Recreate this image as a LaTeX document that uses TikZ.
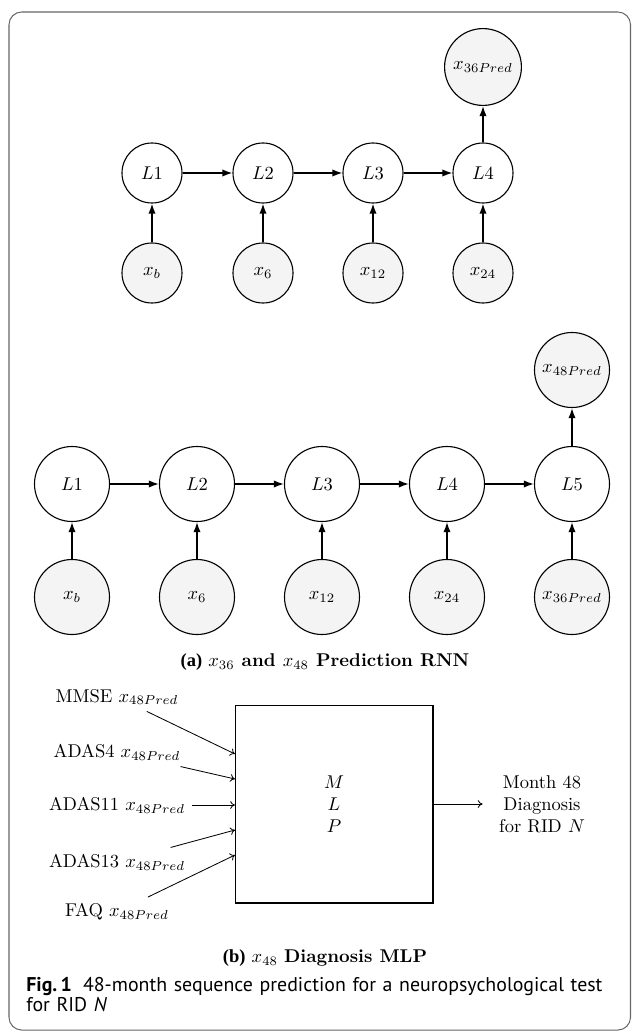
\documentclass[tikz,border=0pt]{standalone}
\usepackage{amsmath}
\usepackage{fontspec}
\usepackage{tikz}
\usetikzlibrary{arrows.meta,positioning,calc}
\newfontfamily\capsans{PT Sans}
\newfontfamily\captimes{Liberation Serif}
\definecolor{InGray}{HTML}{F4F4F4}
\definecolor{FrameGray}{HTML}{666666}

\begin{document}
\begin{tikzpicture}[x=0.19mm,y=-0.19mm,>=Latex,
    cell/.style={circle,draw,line width=.6pt,inner sep=1pt,fill=white},
    feed/.style={cell,fill=InGray},
    link/.style={-{Latex[length=5.5pt,width=4pt]},thick},
    wire/.style={-{To[length=2.6pt,width=4.2pt]},line width=.45pt}]
  \useasboundingbox (0,0) rectangle (632,1031);
  \draw[FrameGray,line width=.55pt,rounded corners=2.4mm] (9,12) rectangle (630.5,1030);

  % (a) upper chain: x36 prediction
  \begin{scope}[every node/.append style={minimum size=11.4mm}]
    \foreach \i/\px/\lab in {1/152/b,2/263/6,3/373/12,4/483/24} {
      \node[cell] (a\i) at (\px,173) {$L\i$};
      \node[feed] (ax\i) at (\px,273) {$x_{\lab}$};
      \draw[link] (ax\i) -- (a\i);
    }
  \end{scope}
  \foreach \i [evaluate=\i as \j using int(\i+1)] in {1,2,3}
    \draw[link] (a\i) -- (a\j);
  \node[feed,minimum size=14.6mm] (apred) at (483,67) {$x_{36Pred}$};
  \draw[link] (a4) -- (apred);

  % (a) lower chain: x48 prediction
  \begin{scope}[every node/.append style={minimum size=14.25mm}]
    \foreach \i/\px/\lab in {1/72/b,2/197/6,3/322/12,4/447/24,5/572/{36Pred}} {
      \node[cell] (b\i) at (\px,484) {$L\i$};
      \node[feed] (bx\i) at (\px,597) {$x_{\lab}$};
      \draw[link] (bx\i) -- (b\i);
    }
    \node[feed] (bpred) at (572,370) {$x_{48Pred}$};
  \end{scope}
  \foreach \i [evaluate=\i as \j using int(\i+1)] in {1,2,3,4}
    \draw[link] (b\i) -- (b\j);
  \draw[link] (b5) -- (bpred);
  \node (capa) at (325,662) {{\captimes\bfseries (a)} \textbf{$x_{36}$ and $x_{48}$ Prediction RNN}};

  % (b) diagnosis MLP
  \node[draw,line width=.6pt,minimum width=37.6mm,minimum height=37.6mm,align=center] (mlp) at (334,804) {$M$\\$L$\\$P$};
  \foreach \n/\t/\py/\ey in {mmse/MMSE/697/754,adasf/ADAS4/752/779,adase/ADAS11/805/805,adast/ADAS13/862/830,faq/FAQ/912/855} {
    \node (\n) at (117,\py) {\t\ $x_{48Pred}$};
    \coordinate (\n-in) at (235,\ey);
    \draw[wire] (\n) -- (\n-in);
  }
  \node[align=center] (diag) at (542,804) {Month 48\\Diagnosis\\for RID $N$};
  \draw[wire,shorten >=1.9mm] (mlp) -- (diag);
  \node (capb) at (325,958) {{\captimes\bfseries (b)} $x_{48}$ \textbf{Diagnosis MLP}};

  % figure caption
  \node[anchor=base west,inner sep=0pt,text width=115mm,align=left,
        font=\capsans\fontsize{10.75}{11.2}\selectfont] (fig) at (26,991)
    {\textbf{Fig.\,1}\hspace{6pt}48-month sequence prediction for a neuropsychological test\\for RID \textit{N}};
\end{tikzpicture}
\end{document}
